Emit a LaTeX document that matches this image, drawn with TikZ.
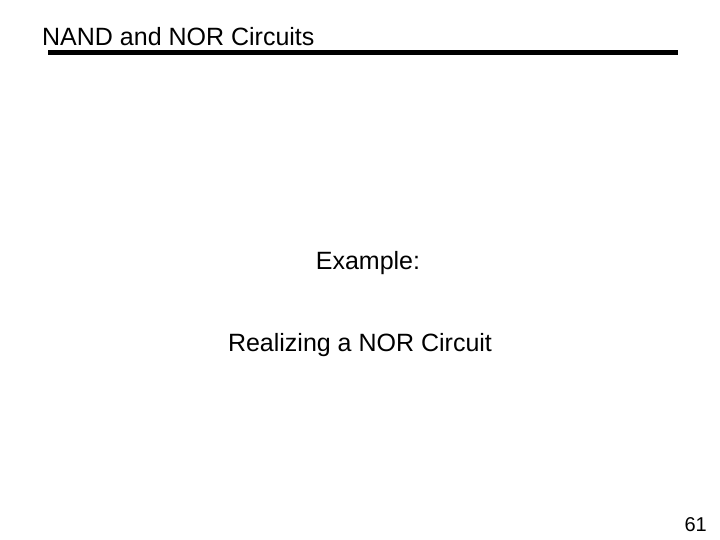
\documentclass[tikz,border=0pt]{standalone}
\usepackage{fontspec}
\setmainfont{Liberation Sans}
\begin{document}
\begin{tikzpicture}[x=1bp,y=1bp,
  txt/.style={inner sep=0pt, font=\fontsize{25bp}{30bp}\selectfont}]
\useasboundingbox[fill=white] (0,0) rectangle (720,540);
\node[txt, anchor=west] (title) at (42,503) {NAND and NOR Circuits};
\coordinate (r1) at (48,487);
\coordinate (r2) at (678,487);
\draw[line width=5bp] (r1) -- (r2);
\node[txt] (ex) at (368,277) {Example:};
\node[txt] (re) at (360,195) {Realizing a NOR Circuit};
\node[inner sep=0pt, font=\fontsize{20bp}{24bp}\selectfont, anchor=east] (pg) at (707,15) {61};
\end{tikzpicture}
\end{document}
